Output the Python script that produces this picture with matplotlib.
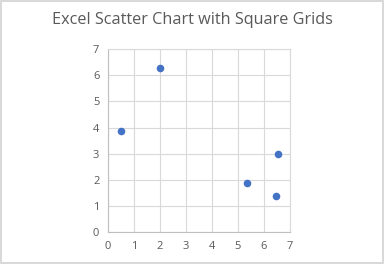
import matplotlib
matplotlib.use("Agg")
import matplotlib.pyplot as plt

# dados
x_vals = [0.5, 2.02, 5.33, 6.53, 6.45]
y_vals = [3.88, 6.26, 1.87, 2.98, 1.37]
ticks = [0, 1, 2, 3, 4, 5, 6, 7]

plt.rcParams['font.family'] = ['Open Sans', 'DejaVu Sans']

fig = plt.figure(figsize=(3.84, 2.64), dpi=100)
fig.patch.set_edgecolor('#d9d9d9')
fig.patch.set_linewidth(1.5)

W, H = 384, 264
ax = fig.add_axes([107.7 / W, 1 - 232.3 / H, 182.3 / W, 183.3 / H])
ax.scatter(x_vals, y_vals, s=30, color='#4472C4', zorder=3, linewidths=0)

ax.set_xlim(0, 7)
ax.set_ylim(0, 7)
ax.set_xticks(ticks)
ax.set_yticks(ticks)
ax.grid(True, color='#d9d9d9', linewidth=0.8, zorder=0)
for s in ax.spines.values():
    s.set_color('#d9d9d9')
    s.set_linewidth(0.8)
ax.spines['bottom'].set_color('#bfbfbf')
ax.spines['left'].set_color('#bfbfbf')
ax.tick_params(length=0, labelsize=8, labelcolor='#595959', pad=6)

fig.text(0.5, 1 - 20 / H, "Excel Scatter Chart with Square Grids",
         ha='center', va='center', fontsize=11.7, color='#595959')

fig.savefig("out.png", dpi=100)
